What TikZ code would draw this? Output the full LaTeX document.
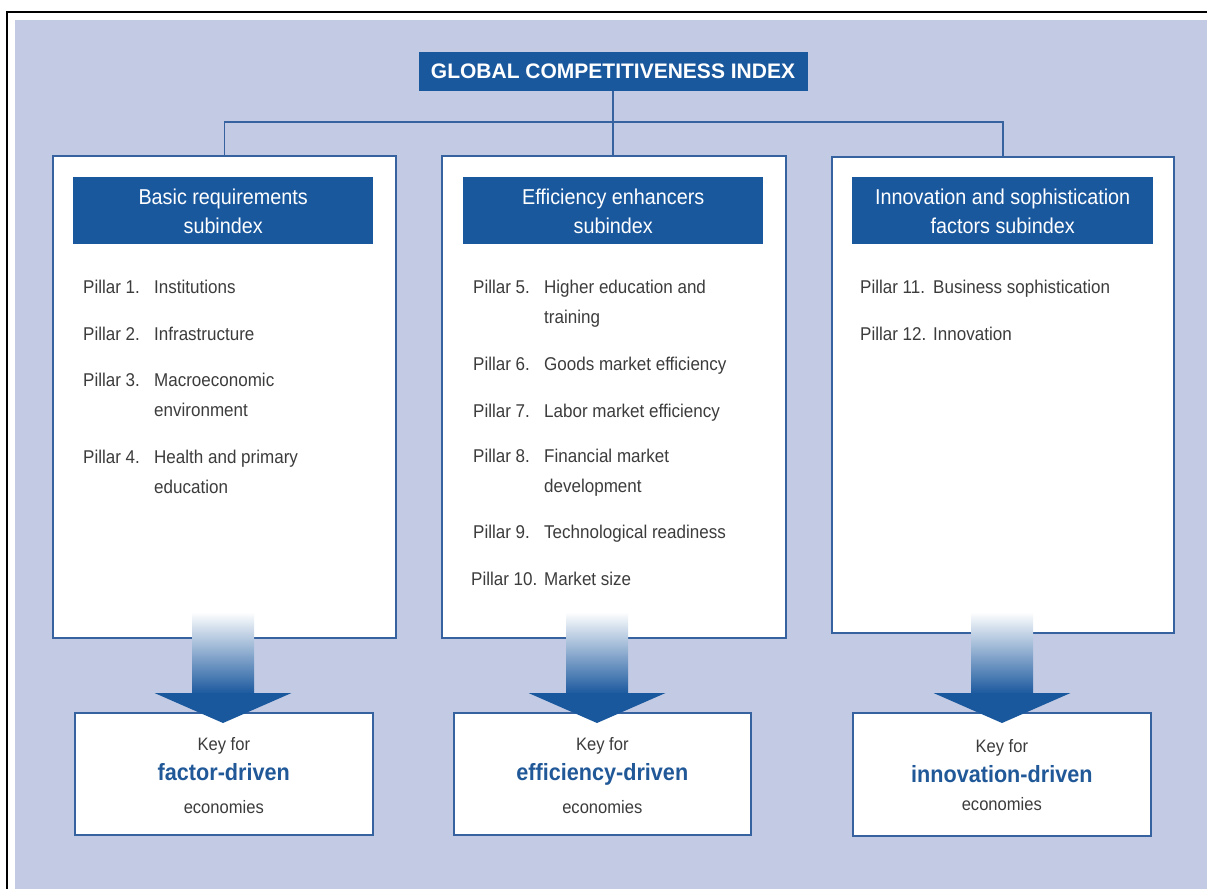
\documentclass[tikz,border=0pt]{standalone}
\usepackage{fontspec}
\setmainfont{Liberation Sans}
\newfontfamily\cond[FakeStretch=0.92]{Liberation Sans}
\usetikzlibrary{calc}

\definecolor{bg}{RGB}{195,203,228}
\definecolor{hdr}{RGB}{26,88,158}
\definecolor{edge}{RGB}{55,98,160}
\definecolor{ink}{RGB}{60,60,60}
\definecolor{keyblue}{RGB}{32,88,152}

\tikzset{
  panel/.style={draw=edge, line width=1.6pt, fill=white, anchor=north west, inner sep=0pt},
  header/.style={fill=hdr, anchor=north west, inner sep=0pt, minimum width=300pt, minimum height=67pt},
  headtxt/.style={text=white, align=center, inner sep=0pt, font=\cond\fontsize{21.5}{29}\selectfont},
  pil/.style={anchor=base west, text=ink, inner sep=0pt, font=\cond\fontsize{18.5}{30}\selectfont},
  conn/.style={draw=edge, line width=1.6pt},
  keysmall/.style={anchor=base, text=ink, inner sep=0pt, font=\cond\fontsize{18}{20}\selectfont},
  keybig/.style={anchor=base, text=keyblue, inner sep=0pt, font=\cond\bfseries\fontsize{23.5}{28}\selectfont},
  shaft/.style={top color=white, bottom color=hdr},
  head/.style={fill=hdr},
}
\newcommand{\pillar}[2]{\begin{tabular}[t]{@{}p{71pt}@{}l@{}}#1 & #2\end{tabular}}

\begin{document}
\begin{tikzpicture}[x=1pt, y=-1pt]
  \useasboundingbox (0,0) rectangle (1207,889);
  % page frame and background
  \fill[white] (0,0) rectangle (1207,889);
  \draw[line width=2.5pt] (7,889) -- (7,12) -- (1207,12);
  \fill[bg] (15,20) rectangle (1207,889);

  % index title
  \node[fill=hdr, text=white, minimum width=389pt, minimum height=39pt, inner sep=0pt,
        font=\bfseries\fontsize{21}{24}\selectfont] (gci) at (613,71.5) {GLOBAL COMPETITIVENESS INDEX};

  % subindex panels
  \node[panel, minimum width=343pt, minimum height=482pt] (lbox) at (52,155) {};
  \node[panel, minimum width=344pt, minimum height=482pt] (mbox) at (441,155) {};
  \node[panel, minimum width=342pt, minimum height=476pt] (rbox) at (831,156) {};

  % tree connectors
  \coordinate (bus) at (gci.south |- 0,122);
  \draw[conn] (gci.south) -- (gci.south |- mbox.north);
  \draw[conn] (lbox.north) |- (bus) -| (rbox.north);

  % panel headers
  \node[header] (lhead) at (73,177) {};
  \node[header] (mhead) at (463,177) {};
  \node[header, minimum width=301pt] (rhead) at (852,177) {};
  \node[headtxt] (lht) at ($(lhead.center)+(0,1)$) {Basic requirements\\subindex};
  \node[headtxt] (mht) at ($(mhead.center)+(0,1)$) {Efficiency enhancers\\subindex};
  \node[headtxt] (rht) at ($(rhead.center)+(0,1)$) {Innovation and sophistication\\factors subindex};

  % pillars: basic requirements
  \node[pil] (p1) at (83,293) {\pillar{Pillar 1.}{Institutions}};
  \node[pil] (p2) at (83,340) {\pillar{Pillar 2.}{Infrastructure}};
  \node[pil] (p3) at (83,386) {\pillar{Pillar 3.}{Macroeconomic\\ & environment}};
  \node[pil] (p4) at (83,463) {\pillar{Pillar 4.}{Health and primary\\ & education}};

  % pillars: efficiency enhancers
  \node[pil] (p5) at (473,293) {\pillar{Pillar 5.}{Higher education and\\ & training}};
  \node[pil] (p6) at (473,370) {\pillar{Pillar 6.}{Goods market efficiency}};
  \node[pil] (p7) at (473,417) {\pillar{Pillar 7.}{Labor market efficiency}};
  \node[pil] (p8) at (473,462) {\pillar{Pillar 8.}{Financial market\\ & development}};
  \node[pil] (p9) at (473,538) {\pillar{Pillar 9.}{Technological readiness}};
  \node[pil] (p10) at (471,585) {\begin{tabular}[t]{@{}p{73pt}@{}l@{}}Pillar 10. & Market size\end{tabular}};

  % pillars: innovation and sophistication
  \node[pil] (p11) at (860,293) {\begin{tabular}[t]{@{}p{73pt}@{}l@{}}Pillar 11. & Business sophistication\end{tabular}};
  \node[pil] (p12) at (860,340) {\begin{tabular}[t]{@{}p{73pt}@{}l@{}}Pillar 12. & Innovation\end{tabular}};

  % stage boxes
  \node[panel, minimum width=298pt, minimum height=122pt] (lkey) at (74,712) {};
  \node[panel, minimum width=297pt, minimum height=122pt] (mkey) at (453,712) {};
  \node[panel, minimum width=298pt, minimum height=123pt] (rkey) at (852,712) {};

  \node[keysmall] (lk1) at (lkey.center |- 0,750) {Key for};
  \node[keybig]   (lk2) at (lkey.center |- 0,780) {factor-driven};
  \node[keysmall] (lk3) at (lkey.center |- 0,813) {economies};
  \node[keysmall] (mk1) at (mkey.center |- 0,750) {Key for};
  \node[keybig]   (mk2) at (mkey.center |- 0,780) {efficiency-driven};
  \node[keysmall] (mk3) at (mkey.center |- 0,813) {economies};
  \node[keysmall] (rk1) at (rkey.center |- 0,752) {Key for};
  \node[keybig]   (rk2) at (rkey.center |- 0,782) {innovation-driven};
  \node[keysmall] (rk3) at (rkey.center |- 0,810) {economies};

  % block arrows from panels to stage boxes
  \foreach \cx in {223,597,1002} {
    \shade[shaft] (\cx-31,612) rectangle (\cx+31,694);
    \fill[head] (\cx-68.5,693) -- (\cx+68.5,693) -- (\cx,723) -- cycle;
  }
\end{tikzpicture}
\end{document}
